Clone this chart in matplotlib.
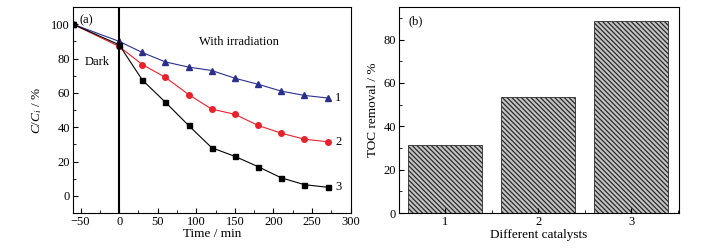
import matplotlib
matplotlib.use("Agg")
import matplotlib.pyplot as plt
from matplotlib.ticker import AutoMinorLocator, MultipleLocator

plt.rcParams['font.family'] = ['Liberation Serif', 'DejaVu Serif']
plt.rcParams['mathtext.fontset'] = 'custom'
plt.rcParams['mathtext.rm'] = 'Liberation Serif'
plt.rcParams['mathtext.it'] = 'Liberation Serif:italic'
plt.rcParams['hatch.linewidth'] = 0.9
plt.rcParams['hatch.color'] = '#2a2a2a'

# (a) degradation curves
time = [-60, 0, 30, 60, 90, 120, 150, 180, 210, 240, 270]
cat1 = [100, 90, 83.5, 78, 75, 73, 68.5, 65, 61, 58.5, 57]
cat2 = [100, 87, 76.5, 69, 59, 50.5, 47.5, 41, 36.5, 33, 31.5]
cat3 = [100, 88, 67.5, 54.5, 41, 28, 23, 17, 10.5, 6.5, 5]

# (b) TOC removal
catalysts = ['1', '2', '3']
toc = [31.5, 53.5, 88.5]

fig = plt.figure(figsize=(7.07, 2.5), dpi=100)
ax1 = fig.add_axes([0.103, 0.148, 0.393, 0.824])
ax2 = fig.add_axes([0.564, 0.148, 0.397, 0.824])

ax1.plot(time, cat1, color='#2b2f8c', marker='^', ms=4, lw=0.8)
ax1.plot(time, cat2, color='#e8212b', marker='o', ms=4, lw=0.8)
ax1.plot(time, cat3, color='black', marker='s', ms=3.6, lw=0.8)
ax1.axvline(0, color='black', lw=1.5)
ax1.set_xlim(-60, 300)
ax1.set_ylim(-10, 110)
ax1.set_xticks([-50, 0, 50, 100, 150, 200, 250, 300])
ax1.set_yticks([0, 20, 40, 60, 80, 100])
ax1.xaxis.set_minor_locator(AutoMinorLocator(2))
ax1.yaxis.set_minor_locator(AutoMinorLocator(2))
ax1.set_xlabel('Time / min', fontsize=9.5, labelpad=0)
ax1.set_ylabel(r'$C/C_i$ / %', fontsize=9.5, labelpad=5)
ax1.text(-51, 102, '(a)', fontsize=9, va='center')
ax1.text(-45, 78, 'Dark', fontsize=9, va='center')
ax1.text(103, 89.5, 'With irradiation', fontsize=9, va='center')
ax1.text(280, 57, '1', fontsize=9, va='center')
ax1.text(280, 31.5, '2', fontsize=9, va='center')
ax1.text(280, 5, '3', fontsize=9, va='center')

ax2.bar([1, 2, 3], toc, width=0.8, facecolor='#c4c4c4', edgecolor='#2a2a2a',
        hatch='\\\\\\\\\\\\\\', lw=0.6)
ax2.set_xlim(0.5, 3.52)
ax2.set_ylim(0, 95)
ax2.set_xticks([1, 2, 3])
ax2.set_xticklabels(catalysts)
ax2.set_yticks([0, 20, 40, 60, 80])
ax2.xaxis.set_minor_locator(MultipleLocator(0.5))
ax2.yaxis.set_minor_locator(AutoMinorLocator(2))
ax2.set_xlabel('Different catalysts', fontsize=9.5, labelpad=1)
ax2.set_ylabel('TOC removal / %', fontsize=9.5, labelpad=3)
ax2.text(0.6, 88.5, '(b)', fontsize=9, va='center')

for ax in (ax1, ax2):
    ax.tick_params(which='both', direction='in', labelsize=9, pad=2)
    ax.tick_params(which='major', length=3.5, width=0.8)
    ax.tick_params(which='minor', length=2, width=0.6)
    for s in ax.spines.values():
        s.set_linewidth(0.8)

fig.savefig('out.png', dpi=100)
